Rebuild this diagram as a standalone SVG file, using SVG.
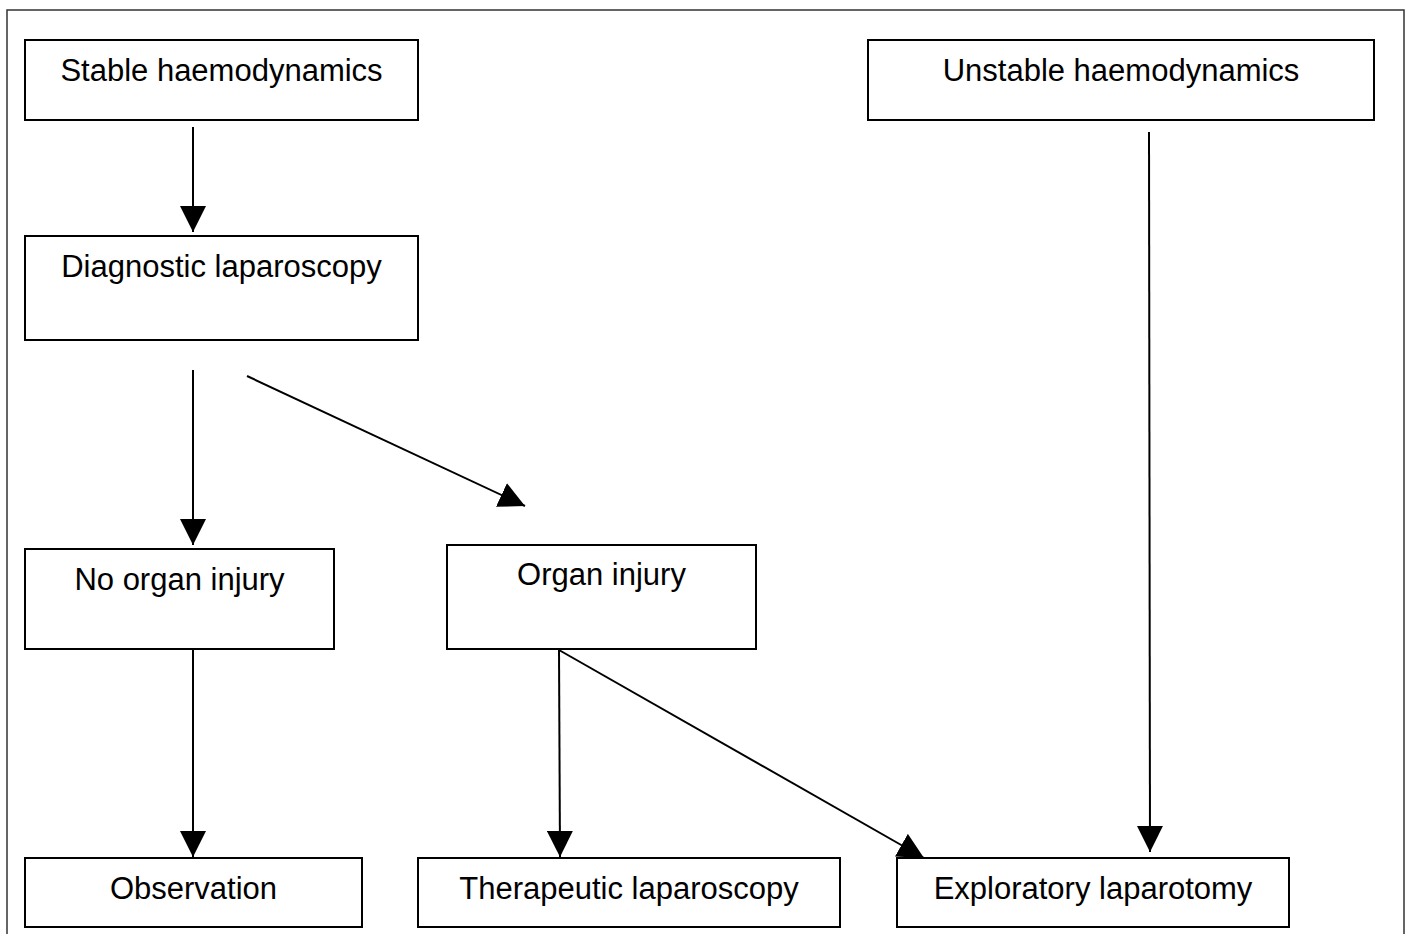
<svg xmlns="http://www.w3.org/2000/svg" width="1412" height="934" viewBox="0 0 1412 934">
<style>
.box{fill:#fff;stroke:#000;stroke-width:2}
.t{font-family:"Liberation Sans",Arial,sans-serif;font-size:31px;fill:#000;text-anchor:middle}
.c{stroke:#000;stroke-width:2;fill:none}
</style>
<defs>
<marker id="ah" markerUnits="userSpaceOnUse" markerWidth="26" markerHeight="26" viewBox="0 0 26 26" refX="26" refY="13" orient="auto">
<path d="M0,0 L26,13 L0,26 Z" fill="#000"/>
</marker>
</defs>
<rect x="0" y="0" width="1412" height="934" fill="#fff"/>
<path d="M7,934 V10 H1404 V934" fill="none" stroke="#333" stroke-width="1.5"/>
<g id="connectors">
<line class="c" x1="193" y1="127" x2="193" y2="232" marker-end="url(#ah)"/>
<line class="c" x1="193" y1="370" x2="193" y2="545" marker-end="url(#ah)"/>
<line class="c" x1="247" y1="376" x2="525" y2="506" marker-end="url(#ah)"/>
<line class="c" x1="193" y1="650" x2="193" y2="857" marker-end="url(#ah)"/>
<line class="c" x1="559" y1="650" x2="560" y2="857" marker-end="url(#ah)"/>
<line class="c" x1="559" y1="650" x2="924" y2="858" marker-end="url(#ah)"/>
<line class="c" x1="1149" y1="132" x2="1150" y2="852" marker-end="url(#ah)"/>
</g>
<g id="stable"><rect class="box" x="25" y="40" width="393" height="80"/><text class="t" x="221.5" y="81">Stable haemodynamics</text></g>
<g id="unstable"><rect class="box" x="868" y="40" width="506" height="80"/><text class="t" x="1121" y="81">Unstable haemodynamics</text></g>
<g id="diagnostic"><rect class="box" x="25" y="236" width="393" height="104"/><text class="t" x="221.5" y="277">Diagnostic laparoscopy</text></g>
<g id="no-organ"><rect class="box" x="25" y="549" width="309" height="100"/><text class="t" x="179.5" y="590">No organ injury</text></g>
<g id="organ"><rect class="box" x="447" y="545" width="309" height="104"/><text class="t" x="601.5" y="585">Organ injury</text></g>
<g id="observation"><rect class="box" x="25" y="858" width="337" height="69"/><text class="t" x="193.5" y="899">Observation</text></g>
<g id="therapeutic"><rect class="box" x="418" y="858" width="422" height="69"/><text class="t" x="629" y="899">Therapeutic laparoscopy</text></g>
<g id="exploratory"><rect class="box" x="897" y="858" width="392" height="69"/><text class="t" x="1093" y="899">Exploratory laparotomy</text></g>
</svg>
